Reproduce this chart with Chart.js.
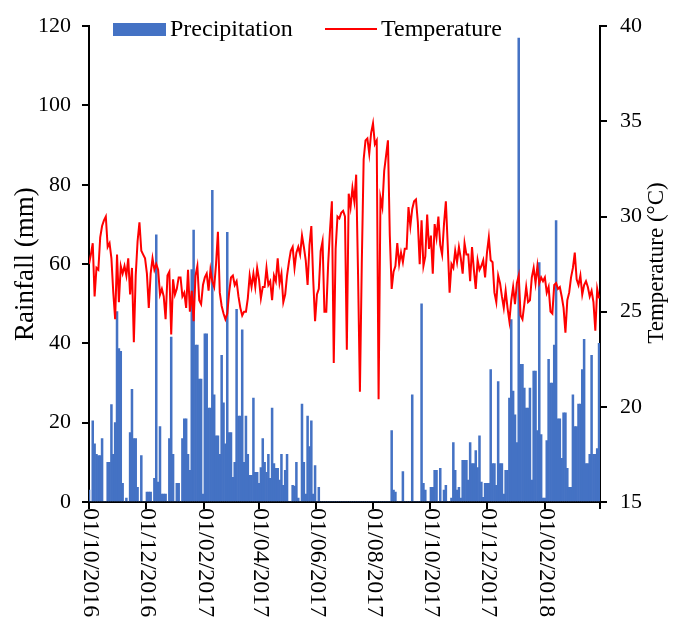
<!DOCTYPE html>
<html>
<head>
<meta charset="utf-8">
<script src="https://cdn.jsdelivr.net/npm/chart.js@4.4.1/dist/chart.umd.min.js"></script>
<style>
  html, body { margin: 0; padding: 0; background: #fff; }
</style>
</head>
<body>
<canvas id="chart" width="678" height="626"></canvas>
<script>
// one value every 2 days, starting 01/10/2016
const dayStep = 2;
const tickDays = [0, 61, 123, 182, 243, 304, 365, 426, 488, 547];
const tickLabels = ["01/10/2016", "01/12/2016", "01/02/2017", "01/04/2017", "01/06/2017",
  "01/08/2017", "01/10/2017", "01/12/2017", "01/02/2018", ""];

const precipitation = [
  3, 0, 20.5, 14.7, 12, 11.7, 11.7, 16, 0, 0,
  10, 10, 24.6, 12, 20, 48, 38.7, 38, 4.7, 0,
  1, 0, 17.5, 28.4, 16, 16, 3.7, 0, 11.7, 0,
  0, 2.5, 2.5, 2.5, 0, 6, 67.4, 5, 19, 2,
  2, 2, 0, 16, 41.6, 12, 0, 4.7, 4.7, 0,
  16, 21, 21, 12, 8, 58.6, 68.6, 39.6, 39.6, 31,
  31, 2, 42.4, 42.4, 23.7, 23.7, 78.6, 27, 16.7, 16.7,
  12, 37, 25, 14.7, 68, 17.5, 17.5, 6.2, 10, 48.6,
  21.7, 21.7, 43.4, 10, 21.7, 12, 6.7, 6.7, 26.2, 7.5,
  7.5, 4.7, 8.7, 16, 10, 7.5, 12, 6, 23.7, 9.7,
  8.5, 8.5, 5.5, 12, 4.2, 8, 12, 0, 0, 4.2,
  4, 10, 1, 0, 24.7, 10, 2, 21.7, 14, 20.5,
  2, 9.2, 0, 3.7, 0, 0, 0, 0, 0, 0,
  0, 0, 0, 0, 0, 0, 0, 0, 0, 0,
  0, 0, 0, 0, 0, 0, 0, 0, 0, 0,
  0, 0, 0, 0, 0, 0, 0, 0, 0, 0,
  0, 0, 18, 3, 2.5, 0, 0, 0, 7.7, 0,
  0, 0, 0, 27, 0, 0, 0, 0, 50, 4.7,
  3, 0, 0, 3.7, 3.7, 8, 8, 0, 8.5, 0,
  3, 4.2, 0, 0, 1, 15, 8, 3, 3.7, 1,
  10.5, 10.5, 10.5, 5.5, 15, 9.7, 9.7, 13, 8.7, 16.7,
  5, 1.2, 4.7, 4.7, 4.7, 33.4, 9.7, 9.7, 4.2, 30.4,
  9.7, 9.7, 2, 8, 8, 26.2, 46, 28, 22, 15,
  117, 34.7, 34.7, 28.7, 23.7, 23.7, 28.7, 5.5, 33, 33,
  18, 60.4, 17, 1, 1, 15.5, 36, 30, 30, 39.6,
  71, 21, 21, 11, 22.5, 22.5, 8.5, 3.7, 3.7, 27,
  19, 19, 24.7, 24.7, 33.4, 41, 9.7, 9.7, 12, 37,
  12, 12, 13.5, 40
];

const temperature = [
  27.5, 28.0, 28.6, 25.8, 27.3, 27.2, 28.9, 29.5, 29.8, 30.0,
  28.4, 28.6, 27.8, 26.0, 24.6, 28.0, 25.5, 27.4, 27.0, 27.4,
  26.9, 27.8, 25.9, 27.3, 23.4, 26.9, 28.7, 29.7, 28.2, 28.0,
  27.8, 27.0, 25.2, 27.0, 27.8, 27.2, 27.5, 27.2, 25.9, 26.2,
  25.8, 24.6, 26.9, 27.1, 23.8, 26.7, 25.9, 26.2, 26.8, 26.8,
  25.8, 26.0, 25.2, 27.2, 25.0, 26.1, 24.5, 26.9, 27.4, 25.6,
  25.4, 26.4, 26.8, 27.0, 26.1, 27.2, 26.6, 26.3, 27.5, 29.2,
  26.0, 25.3, 24.9, 24.6, 24.9, 26.0, 26.8, 26.9, 26.4, 26.6,
  25.8, 25.2, 24.8, 25.0, 25.0, 25.7, 26.9, 26.3, 27.0, 26.3,
  27.3, 26.7, 25.7, 26.3, 26.3, 27.3, 26.4, 26.6, 25.6, 26.9,
  26.6, 27.8, 26.5, 27.0, 25.5, 25.9, 26.9, 27.6, 28.2, 28.4,
  27.3, 28.1, 28.4, 28.0, 29.0, 28.4, 27.7, 26.4, 28.5, 29.5,
  26.7, 24.5, 25.9, 26.2, 28.2, 28.7, 25.0, 25.0, 27.5, 29.3,
  30.8, 22.3, 28.3, 30.0, 29.9, 30.2, 30.3, 30.0, 23.0, 31.2,
  30.5, 31.5, 30.8, 32.2, 27.0, 20.8, 27.5, 33.0, 34.0, 34.1,
  33.3, 34.4, 34.9, 33.8, 34.0, 20.4, 31.0, 30.5, 32.4, 33.2,
  34.0, 29.0, 26.2, 27.1, 27.4, 28.6, 27.5, 28.1, 27.6, 28.3,
  28.3, 30.5, 29.5, 30.4, 30.8, 30.9, 29.7, 27.5, 29.8, 27.4,
  27.9, 30.1, 28.3, 29.0, 27.0, 29.6, 28.9, 30.0, 28.5, 28.0,
  29.6, 30.8, 28.5, 26.0, 27.5, 27.3, 28.2, 27.6, 28.4, 27.8,
  27.0, 28.6, 28.0, 28.0, 26.6, 28.4, 27.2, 26.2, 27.7, 27.2,
  27.4, 27.7, 26.8, 28.1, 28.9, 27.7, 27.6, 26.0, 25.5, 26.9,
  26.5, 25.8, 25.2, 26.1, 25.2, 24.5, 25.6, 26.3, 25.4, 26.5,
  26.9, 24.8, 24.6, 25.4, 26.3, 25.5, 25.6, 26.8, 27.3, 26.5,
  27.4, 26.5, 26.8, 26.6, 26.8, 26.0, 26.3, 25.0, 24.9, 26.4,
  26.5, 26.2, 26.3, 25.8, 25.2, 23.9, 25.6, 26.0, 26.8, 27.3,
  28.1, 26.7, 26.4, 26.9, 25.9, 26.4, 26.6, 26.3, 25.8, 26.1,
  25.5, 24.0, 26.2, 25.7
];

const serif = "'Liberation Serif', 'Times New Roman', serif";
Chart.defaults.font.family = serif;
Chart.defaults.color = "#000";

// rotated x labels, right title and legend are drawn by hand
const extraText = {
  id: "extraText",
  afterDraw(chart) {
    const ctx = chart.ctx;
    const xs = chart.scales.x;
    ctx.save();
    ctx.fillStyle = "#000";
    ctx.font = "24px " + serif;
    ctx.textAlign = "left";
    ctx.textBaseline = "middle";
    tickDays.forEach((d, i) => {
      ctx.save();
      ctx.translate(xs.getPixelForValue(d) + 1, xs.top + 6);
      ctx.rotate(Math.PI / 2);
      ctx.fillText(tickLabels[i], 0, 0);
      ctx.restore();
    });

    ctx.save();
    ctx.font = "23px " + serif;
    ctx.textAlign = "center";
    ctx.translate(657, 263);
    ctx.rotate(-Math.PI / 2);
    ctx.fillText("Temperature (°C)", 0, 0);
    ctx.restore();

    const ds = chart.data.datasets;
    ctx.font = "24px " + serif;
    ctx.fillStyle = ds[1].backgroundColor;
    ctx.fillRect(113, 23, 53, 13);
    ctx.fillStyle = "#000";
    ctx.fillText(ds[1].label, 170, 30);
    ctx.strokeStyle = ds[0].borderColor;
    ctx.lineWidth = 2;
    ctx.beginPath();
    ctx.moveTo(325, 29);
    ctx.lineTo(377, 29);
    ctx.stroke();
    ctx.fillText(ds[0].label, 381, 30);
    ctx.restore();
  }
};

const axisLine = { color: "#000", width: 2 };
const tickMarks = { drawOnChartArea: false, drawTicks: true, tickLength: 7, color: "#000", lineWidth: 2 };

new Chart(document.getElementById("chart"), {
  type: "bar",
  data: {
    datasets: [
      {
        type: "line",
        label: "Temperature",
        data: temperature.map((v, i) => ({ x: i * dayStep, y: v })),
        yAxisID: "y1",
        borderColor: "#FF0000",
        borderWidth: 2,
        pointRadius: 0,
        tension: 0,
        order: 1
      },
      {
        label: "Precipitation",
        data: precipitation.map((v, i) => ({ x: i * dayStep, y: v })),
        yAxisID: "y",
        backgroundColor: "#4472C4",
        borderWidth: 0,
        barPercentage: 1,
        categoryPercentage: 1,
        order: 2
      }
    ]
  },
  plugins: [extraText],
  options: {
    responsive: false,
    animation: false,
    layout: { padding: { top: 21, left: 0, right: 0, bottom: 0 } },
    plugins: { legend: { display: false }, tooltip: { enabled: false } },
    scales: {
      x: {
        type: "linear",
        min: 0,
        max: 547,
        offset: false,
        grid: Object.assign({ offset: false }, tickMarks),
        border: axisLine,
        ticks: { display: false },
        afterBuildTicks: s => { s.ticks = tickDays.map(v => ({ value: v })); },
        afterFit: s => { s.height = 124; }
      },
      y: {
        position: "left",
        min: 0,
        max: 120,
        grid: tickMarks,
        border: axisLine,
        ticks: { stepSize: 20, padding: 11, font: { size: 22 } },
        title: { display: true, text: "Rainfall (mm)", font: { size: 27 }, padding: { top: 10, bottom: 0 } },
        afterFit: s => { s.width = 89; }
      },
      y1: {
        position: "right",
        min: 15,
        max: 40,
        grid: tickMarks,
        border: axisLine,
        ticks: { stepSize: 5, padding: 13, font: { size: 22 } },
        afterFit: s => { s.width = 78; }
      }
    }
  }
});
</script>
</body>
</html>
